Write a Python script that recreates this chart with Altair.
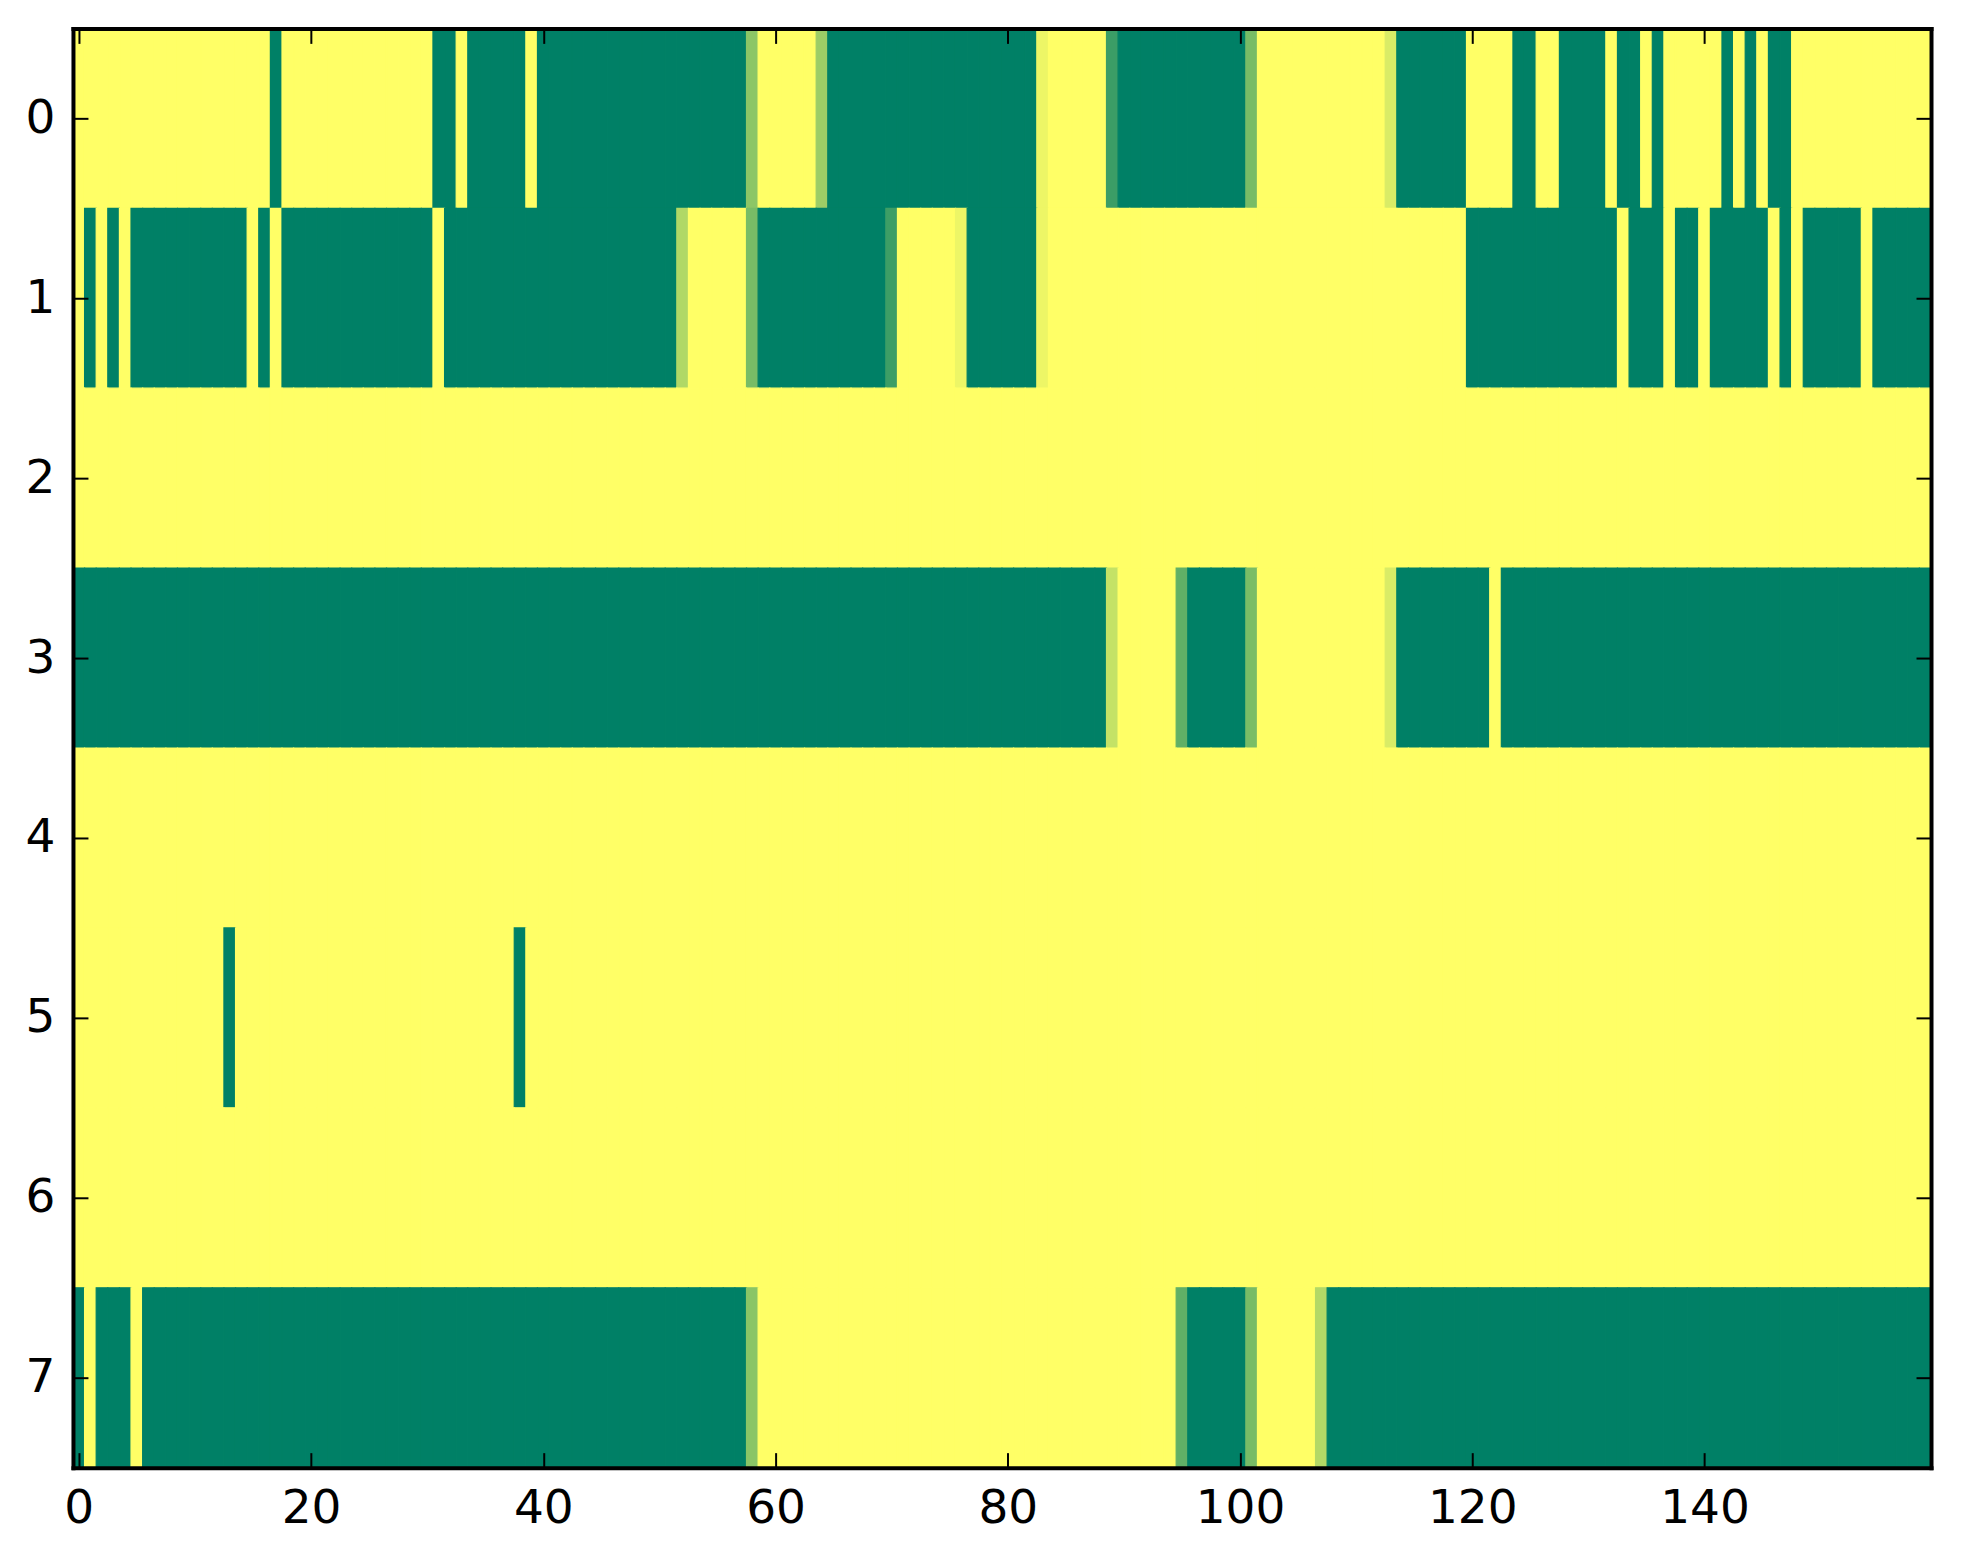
import altair as alt
import pandas as pd

# Values per cell (0 = yellow, 1 = green), 8 rows x 160 columns
ROW0 = [
    0, 0, 0, 0, 0, 0, 0, 0, 0, 0, 0, 0, 0, 0, 0, 0, 0, 1, 0, 0,
    0, 0, 0, 0, 0, 0, 0, 0, 0, 0, 0, 1, 1, 0, 1, 1, 1, 1, 1, 0,
    1, 1, 1, 1, 1, 1, 1, 1, 1, 1, 1, 1, 1, 1, 1, 1, 1, 1, 0.45, 0,
    0, 0, 0, 0, 0.39, 1, 1, 1, 1, 1, 1, 1, 1, 1, 1, 1, 1, 1, 1, 1,
    1, 1, 1, 0.07, 0, 0, 0, 0, 0, 0.77, 1, 1, 1, 1, 1, 1, 1, 1, 1, 1,
    1, 0.53, 0, 0, 0, 0, 0, 0, 0, 0, 0, 0, 0, 0.15, 1, 1, 1, 1, 1, 1,
    0, 0, 0, 0, 1, 1, 0, 0, 1, 1, 1, 1, 0, 1, 1, 0, 1, 0, 0, 0,
    0, 0, 1, 0, 1, 0, 1, 1, 0, 0, 0, 0, 0, 0, 0, 0, 0, 0, 0, 0,
]
ROW1 = [
    0, 1, 0, 1, 0, 1, 1, 1, 1, 1, 1, 1, 1, 1, 1, 0, 1, 0, 1, 1,
    1, 1, 1, 1, 1, 1, 1, 1, 1, 1, 1, 0, 1, 1, 1, 1, 1, 1, 1, 1,
    1, 1, 1, 1, 1, 1, 1, 1, 1, 1, 1, 1, 0.31, 0, 0, 0, 0, 0, 0.53, 1,
    1, 1, 1, 1, 1, 1, 1, 1, 1, 1, 0.76, 0, 0, 0, 0, 0, 0.07, 1, 1, 1,
    1, 1, 1, 0.07, 0, 0, 0, 0, 0, 0, 0, 0, 0, 0, 0, 0, 0, 0, 0, 0,
    0, 0, 0, 0, 0, 0, 0, 0, 0, 0, 0, 0, 0, 0, 0, 0, 0, 0, 0, 0,
    1, 1, 1, 1, 1, 1, 1, 1, 1, 1, 1, 1, 1, 0, 1, 1, 1, 0, 1, 1,
    0, 1, 1, 1, 1, 1, 0, 1, 0, 1, 1, 1, 1, 1, 0, 1, 1, 1, 1, 1,
]
ROW2 = [0] * 160
ROW3 = [
    1, 1, 1, 1, 1, 1, 1, 1, 1, 1, 1, 1, 1, 1, 1, 1, 1, 1, 1, 1,
    1, 1, 1, 1, 1, 1, 1, 1, 1, 1, 1, 1, 1, 1, 1, 1, 1, 1, 1, 1,
    1, 1, 1, 1, 1, 1, 1, 1, 1, 1, 1, 1, 1, 1, 1, 1, 1, 1, 1, 1,
    1, 1, 1, 1, 1, 1, 1, 1, 1, 1, 1, 1, 1, 1, 1, 1, 1, 1, 1, 1,
    1, 1, 1, 1, 1, 1, 1, 1, 1, 0.23, 0, 0, 0, 0, 0, 0.62, 1, 1, 1, 1,
    1, 0.52, 0, 0, 0, 0, 0, 0, 0, 0, 0, 0, 0, 0.15, 1, 1, 1, 1, 1, 1,
    1, 1, 0, 1, 1, 1, 1, 1, 1, 1, 1, 1, 1, 1, 1, 1, 1, 1, 1, 1,
    1, 1, 1, 1, 1, 1, 1, 1, 1, 1, 1, 1, 1, 1, 1, 1, 1, 1, 1, 1,
]
ROW4 = [0] * 160
ROW5 = [
    0, 0, 0, 0, 0, 0, 0, 0, 0, 0, 0, 0, 0, 1, 0, 0, 0, 0, 0, 0,
    0, 0, 0, 0, 0, 0, 0, 0, 0, 0, 0, 0, 0, 0, 0, 0, 0, 0, 1, 0,
    0, 0, 0, 0, 0, 0, 0, 0, 0, 0, 0, 0, 0, 0, 0, 0, 0, 0, 0, 0,
    0, 0, 0, 0, 0, 0, 0, 0, 0, 0, 0, 0, 0, 0, 0, 0, 0, 0, 0, 0,
    0, 0, 0, 0, 0, 0, 0, 0, 0, 0, 0, 0, 0, 0, 0, 0, 0, 0, 0, 0,
    0, 0, 0, 0, 0, 0, 0, 0, 0, 0, 0, 0, 0, 0, 0, 0, 0, 0, 0, 0,
    0, 0, 0, 0, 0, 0, 0, 0, 0, 0, 0, 0, 0, 0, 0, 0, 0, 0, 0, 0,
    0, 0, 0, 0, 0, 0, 0, 0, 0, 0, 0, 0, 0, 0, 0, 0, 0, 0, 0, 0,
]
ROW6 = [0] * 160
ROW7 = [
    1, 0, 1, 1, 1, 0, 1, 1, 1, 1, 1, 1, 1, 1, 1, 1, 1, 1, 1, 1,
    1, 1, 1, 1, 1, 1, 1, 1, 1, 1, 1, 1, 1, 1, 1, 1, 1, 1, 1, 1,
    1, 1, 1, 1, 1, 1, 1, 1, 1, 1, 1, 1, 1, 1, 1, 1, 1, 1, 0.46, 0,
    0, 0, 0, 0, 0, 0, 0, 0, 0, 0, 0, 0, 0, 0, 0, 0, 0, 0, 0, 0,
    0, 0, 0, 0, 0, 0, 0, 0, 0, 0, 0, 0, 0, 0, 0, 0.62, 1, 1, 1, 1,
    1, 0.53, 0, 0, 0, 0, 0, 0.30, 1, 1, 1, 1, 1, 1, 1, 1, 1, 1, 1, 1,
    1, 1, 1, 1, 1, 1, 1, 1, 1, 1, 1, 1, 1, 1, 1, 1, 1, 1, 1, 1,
    1, 1, 1, 1, 1, 1, 1, 1, 1, 1, 1, 1, 1, 1, 1, 1, 1, 1, 1, 1,
]
ROWS = [ROW0, ROW1, ROW2, ROW3, ROW4, ROW5, ROW6, ROW7]

X_TICKS = [0, 20, 40, 60, 80, 100, 120, 140]
Y_TICKS = [0, 1, 2, 3, 4, 5, 6, 7]

records = []
for r, vals in enumerate(ROWS):
    for c, v in enumerate(vals):
        records.append({"col": c, "row": r, "v": v})
df = pd.DataFrame(records)
df["x0"] = df["col"] - 0.5
df["x1"] = df["col"] + 0.5
df["y0"] = df["row"] - 0.5
df["y1"] = df["row"] + 0.5

W, H = 1859, 1440
FONT = "DejaVu Sans"
FS = 47
TICK = 15

xs = alt.Scale(domain=[-0.5, 159.5], nice=False, zero=False)
ys = alt.Scale(domain=[-0.5, 7.5], nice=False, zero=False, reverse=True)
cs = alt.Scale(domain=[0, 1], range=["#ffff66", "#008066"], interpolate="rgb")

def ax(orient, values, labels=False, domain=False, ticks=False, **kw):
    opts = dict(orient=orient, values=values, labels=labels, domain=domain,
                ticks=ticks, grid=False, title=None, zindex=1,
                domainColor="black", domainWidth=4, domainCap="square",
                tickColor="black", tickWidth=2, labelFlush=False,
                labelOverlap=False)
    opts.update(kw)
    return alt.Axis(**opts)

heat = alt.Chart(df).mark_rect(strokeWidth=1.2).encode(
    x=alt.X("x0:Q", scale=xs,
            axis=ax("bottom", X_TICKS, labels=True, domain=True, format="d",
                    labelFont=FONT, labelFontSize=FS, labelColor="black",
                    labelPadding=18)),
    x2="x1:Q",
    y=alt.Y("y0:Q", scale=ys,
            axis=ax("left", Y_TICKS, labels=True, domain=True, format="d",
                    labelFont=FONT, labelFontSize=FS, labelColor="black",
                    labelPadding=18)),
    y2="y1:Q",
    color=alt.Color("v:Q", scale=cs, legend=None),
    stroke=alt.Stroke("v:Q", scale=cs, legend=None),
)

anchor = pd.DataFrame({"col": [0], "row": [0]})

ticks_bl = alt.Chart(anchor).mark_point(opacity=0).encode(
    x=alt.X("col:Q", scale=xs,
            axis=ax("bottom", X_TICKS, ticks=True, tickSize=TICK, offset=-TICK)),
    y=alt.Y("row:Q", scale=ys,
            axis=ax("left", Y_TICKS, ticks=True, tickSize=TICK, offset=-TICK)),
)

frame_tr = alt.Chart(anchor).mark_point(opacity=0).encode(
    x=alt.X("col:Q", scale=xs, axis=ax("top", X_TICKS, domain=True)),
    y=alt.Y("row:Q", scale=ys, axis=ax("right", Y_TICKS, domain=True)),
)

ticks_tr = alt.Chart(anchor).mark_point(opacity=0).encode(
    x=alt.X("col:Q", scale=xs,
            axis=ax("top", X_TICKS, ticks=True, tickSize=TICK, offset=-TICK)),
    y=alt.Y("row:Q", scale=ys,
            axis=ax("right", Y_TICKS, ticks=True, tickSize=TICK, offset=-TICK)),
)

chart = alt.layer(heat, ticks_bl, frame_tr, ticks_tr).resolve_axis(
    x="independent", y="independent"
).properties(
    width=W, height=H,
    autosize="none",
    padding={"left": 65, "top": 20, "right": 24, "bottom": 90},
    background="white",
).configure_view(stroke=None)

chart.save("out.html", embed_options={"renderer": "svg", "actions": False})
